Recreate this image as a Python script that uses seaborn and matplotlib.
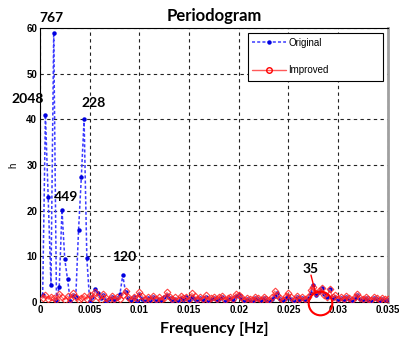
import numpy as np
import matplotlib
matplotlib.use("Agg")
import matplotlib.pyplot as plt
import seaborn as sns
from matplotlib.lines import Line2D
from matplotlib.patches import Rectangle

sns.set_theme(style="white")
plt.rcParams['font.family'] = ['Liberation Sans', 'DejaVu Sans']
plt.rcParams['text.color'] = 'black'
plt.rcParams['axes.labelcolor'] = 'black'

# frequency bins (cycles per sample)
n_bins = 126
bin_step = 1 / 3600
freq = np.arange(1, n_bins + 1) * bin_step

original = [
    1.5, 41, 23, 3.8, 59, 0.5, 3.4, 20.2, 9.4, 5.0,
    0.3, 1.5, 1.2, 15.8, 27.3, 40, 9.7, 0.3, 1.0, 2.8,
    2.0, 0.8, 1.5, 0.3, 0.6, 1.2, 0.4, 0.8, 1.8, 5.9,
    2.2, 0.9, 0.5, 1.2, 0.3, 1.8, 0.6, 0.2, 0.9, 0.4,
    1.1, 0.3, 0.7, 0.5, 1.0, 1.6, 0.8, 0.3, 0.6, 0.2,
    0.9, 0.5, 1.1, 0.4, 1.2, 0.7, 0.3, 0.8, 0.5, 1.0,
    0.2, 0.6, 0.9, 0.4, 0.7, 1.0, 0.3, 0.6, 0.8, 0.4,
    1.3, 1.6, 0.9, 0.3, 0.7, 0.5, 0.2, 0.8, 0.6, 0.4,
    0.9, 0.5, 0.3, 0.7, 1.4, 1.9, 0.6, 0.4, 0.9, 1.3,
    0.7, 0.3, 1.0, 0.5, 0.8, 0.4, 0.9, 2.0, 3.7, 1.5,
    2.1, 3.0, 1.8, 1.0, 2.9, 0.8, 1.2, 0.5, 0.9, 0.4,
    1.0, 0.6, 0.3, 0.8, 1.6, 0.7, 0.4, 0.9, 0.5, 0.3,
    0.8, 0.6, 0.2, 0.7, 0.4, 0.5,
]

improved = [
    0.8, 1.5, 0.6, 1.2, 0.9, 0.4, 1.8, 1.0, 0.5, 1.3,
    0.7, 1.9, 1.1, 0.4, 0.9, 1.4, 0.6, 1.6, 0.8, 2.3,
    1.2, 0.5, 1.7, 0.9, 0.4, 1.3, 0.7, 1.1, 0.6, 1.5,
    2.4, 1.0, 0.5, 1.2, 0.8, 2.2, 1.4, 0.6, 1.0, 0.4,
    1.3, 0.7, 1.1, 0.5, 0.9, 2.1, 1.2, 0.6, 1.0, 0.4,
    1.4, 0.8, 1.1, 0.5, 1.9, 1.3, 0.6, 1.0, 0.7, 1.5,
    0.4, 0.9, 1.2, 0.6, 1.0, 1.4, 0.5, 0.8, 1.2, 0.7,
    1.8, 1.5, 1.1, 0.5, 0.9, 0.6, 0.4, 1.1, 0.8, 0.5,
    1.2, 0.7, 0.4, 1.0, 2.4, 1.6, 0.8, 0.5, 1.3, 1.9,
    1.0, 0.4, 1.4, 0.7, 1.0, 0.6, 1.2, 2.6, 3.4, 2.0,
    2.4, 3.1, 1.6, 1.2, 2.8, 1.0, 1.5, 0.7, 1.1, 0.6,
    1.3, 0.8, 0.5, 1.0, 1.8, 0.9, 0.6, 1.2, 0.7, 0.5,
    1.0, 0.8, 0.4, 0.9, 0.6, 0.7,
]

xticks = [0, 0.005, 0.01, 0.015, 0.02, 0.025, 0.03, 0.035]
xtick_labels = ["0", "0.005", "0.01", "0.015", "0.02", "0.025", "0.03", "0.035"]
yticks = [0, 10, 20, 30, 40, 50, 60]

peak_labels = ["767", "2048", "228", "449", "120", "35"]
peak_label_x = [0.00117, -0.0012, 0.00543, 0.00267, 0.0085, 0.0272]
peak_label_y = [62.3, 44.5, 43.7, 23.0, 9.8, 7.2]

fig = plt.figure(figsize=(3.99, 3.39), dpi=100)
ax = fig.add_axes([0.1, 0.109, 0.872, 0.808])
ax.set_facecolor("white")

sns.lineplot(x=freq, y=original, ax=ax, color="#3a3aff", linestyle=(0, (2.0, 1.4)),
             lw=1.1, marker="o", markersize=3.2, markeredgewidth=0,
             markerfacecolor="#0000e0", zorder=3, legend=False)
sns.lineplot(x=freq, y=improved, ax=ax, color="#ff5a5a", linestyle="-", lw=0.9,
             marker="D", markersize=3.4, markerfacecolor="none",
             markeredgecolor="#ff2020", markeredgewidth=0.8, alpha=0.85,
             zorder=4, legend=False)

ax.set_xlim(0, 0.035)
ax.set_ylim(0, 60)
ax.set_xticks(xticks)
ax.set_xticklabels(xtick_labels)
ax.set_yticks(yticks)
ax.tick_params(axis="both", direction="in", length=3, labelsize=7, pad=2,
               width=0.6, colors="black")
for lab in ax.get_xticklabels() + ax.get_yticklabels():
    lab.set_fontweight("bold")

ax.grid(True, color="#222222", linestyle=(0, (3, 3)), lw=0.8)
for side in ["left", "top", "bottom"]:
    ax.spines[side].set_color("black")
    ax.spines[side].set_linewidth(0.8)
ax.spines["right"].set_color("#a0a0a0")
ax.spines["right"].set_linewidth(2)

ax.set_title("Periodogram", fontsize=12, fontweight="bold", family=["Lato", "DejaVu Sans"],
             pad=5, color="black")
ax.set_xlabel("Frequency [Hz]", fontsize=11.5, fontweight="bold", family=["Lato", "DejaVu Sans"],
              labelpad=5, color="black")
ax.set_ylabel("h", fontsize=7, labelpad=6)

for t, x, y in zip(peak_labels, peak_label_x, peak_label_y):
    ax.text(x, y, t, fontsize=10, fontweight="bold", family=["Lato", "DejaVu Sans"],
            ha="center", va="center", clip_on=False, zorder=6, color="black")

# highlight circle near the 35 peak
ax.plot([0.02817], [-0.15], marker="o", markersize=17, markerfacecolor="none",
        markeredgecolor="red", markeredgewidth=1.5, clip_on=False, zorder=6)
ax.plot([0.02727, 0.02773], [5.9, 1.9], color="red", lw=1.0, zorder=6)

# legend box
box = Rectangle((0.598, 0.807), 0.388, 0.175, transform=ax.transAxes,
                facecolor="white", edgecolor="black", lw=0.8, zorder=9)
ax.add_patch(box)
handles = [
    Line2D([], [], color="#3a3aff", linestyle=(0, (2.0, 1.4)), lw=1.1, marker="o",
           markersize=3.2, markeredgewidth=0, markerfacecolor="#0000e0"),
    Line2D([], [], color="#ff5a5a", linestyle="-", lw=1.0, marker="o",
           markersize=4, markerfacecolor="none", markeredgecolor="red"),
]
leg = ax.legend(handles, ["Original", "Improved"], loc="upper left",
                bbox_to_anchor=(0.6, 0.975), fontsize=7, frameon=False,
                labelspacing=1.8, handlelength=3.5, borderpad=0.3,
                borderaxespad=0, handletextpad=0.3)
leg.set_zorder(10)

fig.savefig("out.png", dpi=100, facecolor="white")
